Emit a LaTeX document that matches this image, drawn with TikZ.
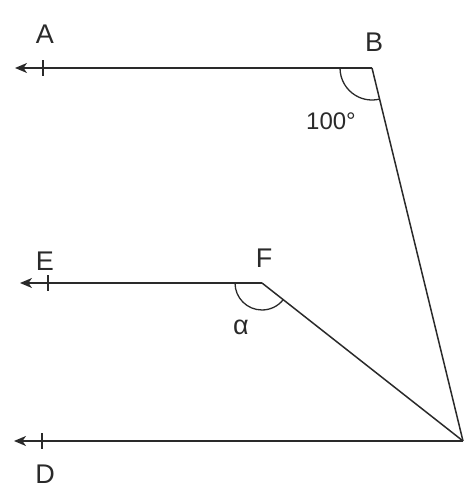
\documentclass[tikz,border=0pt]{standalone}
\usepackage{fontspec}
\setmainfont{Liberation Sans}
\usetikzlibrary{arrows.meta}
\definecolor{ink}{HTML}{2A2A2A}
\tikzset{
  ray/.style={draw=ink, line width=1.5pt, {Stealth[length=12pt,width=10pt,inset=3.5pt]}-},
  seg/.style={draw=ink, line width=1.5pt},
  tickmark/.style={draw=ink, line width=1.3pt},
  anglearc/.style={draw=ink, line width=1.3pt},
  lbl/.style={text=ink, font=\fontsize{27}{29}\selectfont, inner sep=0pt},
}
\begin{document}
\begin{tikzpicture}[x=1pt,y=1pt]
\useasboundingbox (0,0) rectangle (464,487);
\coordinate (B) at (372,419);
\coordinate (C) at (463,46);
\coordinate (F) at (262,204);
\coordinate (A) at (15,419);
\coordinate (E) at (20,204);
\coordinate (D) at (14,46);
\coordinate (tA) at (43,419);
\coordinate (tE) at (48,204);
\coordinate (tD) at (42,46);
% rays
\draw[ray] (A) -- (B);
\draw[ray] (E) -- (F);
\draw[ray] (D) -- (C);
\draw[seg] (B) -- (C);
\draw[seg] (F) -- (C);
% tick marks
\draw[tickmark] ([yshift=-8pt]tA) -- ([yshift=8pt]tA);
\draw[tickmark] ([yshift=-8pt]tE) -- ([yshift=8pt]tE);
\draw[tickmark] ([yshift=-8pt]tD) -- ([yshift=8pt]tD);
% angle arcs
\draw[anglearc] ([xshift=-32pt]B) arc[start angle=180, end angle=283.7, radius=32pt];
\draw[anglearc] ([xshift=-27pt]F) arc[start angle=180, end angle=321.8, radius=27pt];
% labels
\node[lbl] (lA) at (45,453) {A};
\node[lbl] (lB) at (374,445) {B};
\node[lbl] (lE) at (45,226) {E};
\node[lbl] (lF) at (264,229) {F};
\node[lbl, anchor=base] (lD) at (45,3) {D};
\node[lbl] (lC) at (474,16) {C};
\node[lbl, font=\fontsize{24}{26}\selectfont] (l100) at (331,366) {100°};
\node[lbl] (lal) at (241,160) {α};
\end{tikzpicture}
\end{document}
